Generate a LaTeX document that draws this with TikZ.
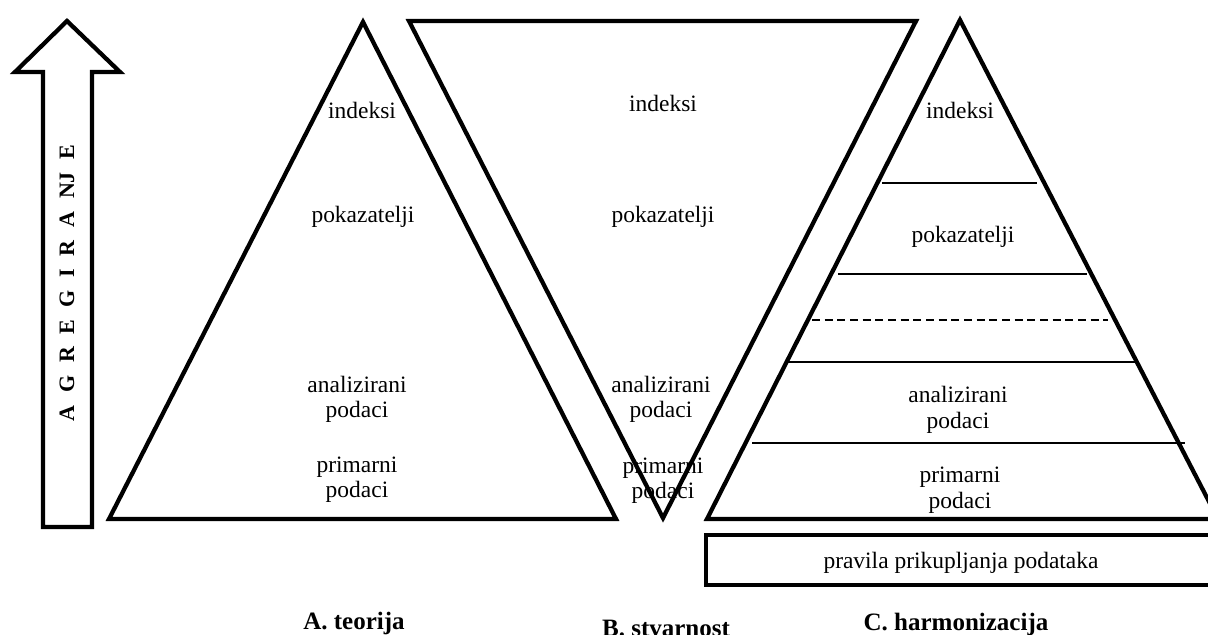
\documentclass[tikz,border=0pt]{standalone}
\usepackage{fontspec}
\setmainfont{Liberation Serif}
\newcommand{\gp}{\hspace{9.5pt}}
\begin{document}
\begin{tikzpicture}[x=0.75pt,y=-0.75pt,
  outl/.style={line width=3.2pt, line join=miter},
  lay/.style={line width=1.5pt},
  dlay/.style={line width=1.5pt, dash pattern=on 6pt off 3.5pt},
  lbl/.style={font=\fontsize{17.6}{19.5}\selectfont, inner sep=0pt, anchor=base},
  ttl/.style={font=\bfseries\fontsize{18.75}{20}\selectfont, inner sep=0pt, anchor=base}]
\useasboundingbox (0,0) rectangle (1208,635);

% aggregation arrow
\draw[outl] (67,21) -- (120,72) -- (92,72) -- (92,527) -- (43,527) -- (43,72) -- (15,72) -- cycle;
\node[rotate=90, inner sep=0pt, font=\bfseries\fontsize{16.5}{18}\selectfont] (agr) at (67,283)
  {A\gp G\gp R\gp E\gp G\gp I\gp R\gp A\gp NJ\gp E};

% A. teorija
\draw[outl] (363,22) -- (616,519) -- (109,519) -- cycle;
\node[lbl] (a1) at (362,119) {indeksi};
\node[lbl] (a2) at (363,223) {pokazatelji};
\node[lbl] (a3) at (357,392) {analizirani};
\node[lbl] (a4) at (357,417) {podaci};
\node[lbl] (a5) at (357,472) {primarni};
\node[lbl] (a6) at (357,497) {podaci};
\node[ttl] (ta) at (354,629) {A. teorija};

% B. stvarnost
\draw[outl] (409,21) -- (916,21) -- (663,518) -- cycle;
\node[lbl] (b1) at (663,112) {indeksi};
\node[lbl] (b2) at (663,223) {pokazatelji};
\node[lbl] (b3) at (661,392) {analizirani};
\node[lbl] (b4) at (661,417) {podaci};
\node[lbl] (b5) at (663,473) {primarni};
\node[lbl] (b6) at (663,498) {podaci};
\node[ttl] (tb) at (666,636) {B. stvarnost};

% C. harmonizacija
\draw[outl] (960,20) -- (1218,519) -- (707,519) -- cycle;
\draw[lay] (882,183) -- (1037,183);
\draw[lay] (838,274) -- (1087,274);
\draw[dlay] (812,320) -- (1108,320);
\draw[lay] (788,362) -- (1135,362);
\draw[lay] (752,443) -- (1185,443);
\node[lbl] (c1) at (960,119) {indeksi};
\node[lbl] (c2) at (963,243) {pokazatelji};
\node[lbl] (c3) at (958,402) {analizirani};
\node[lbl] (c4) at (958,428) {podaci};
\node[lbl] (c5) at (960,482) {primarni};
\node[lbl] (c6) at (960,508) {podaci};
\draw[outl] (706,535) rectangle (1216,585);
\node[lbl] (c7) at (961,568) {pravila prikupljanja podataka};
\node[ttl] (tc) at (956,630) {C. harmonizacija};
\end{tikzpicture}
\end{document}
